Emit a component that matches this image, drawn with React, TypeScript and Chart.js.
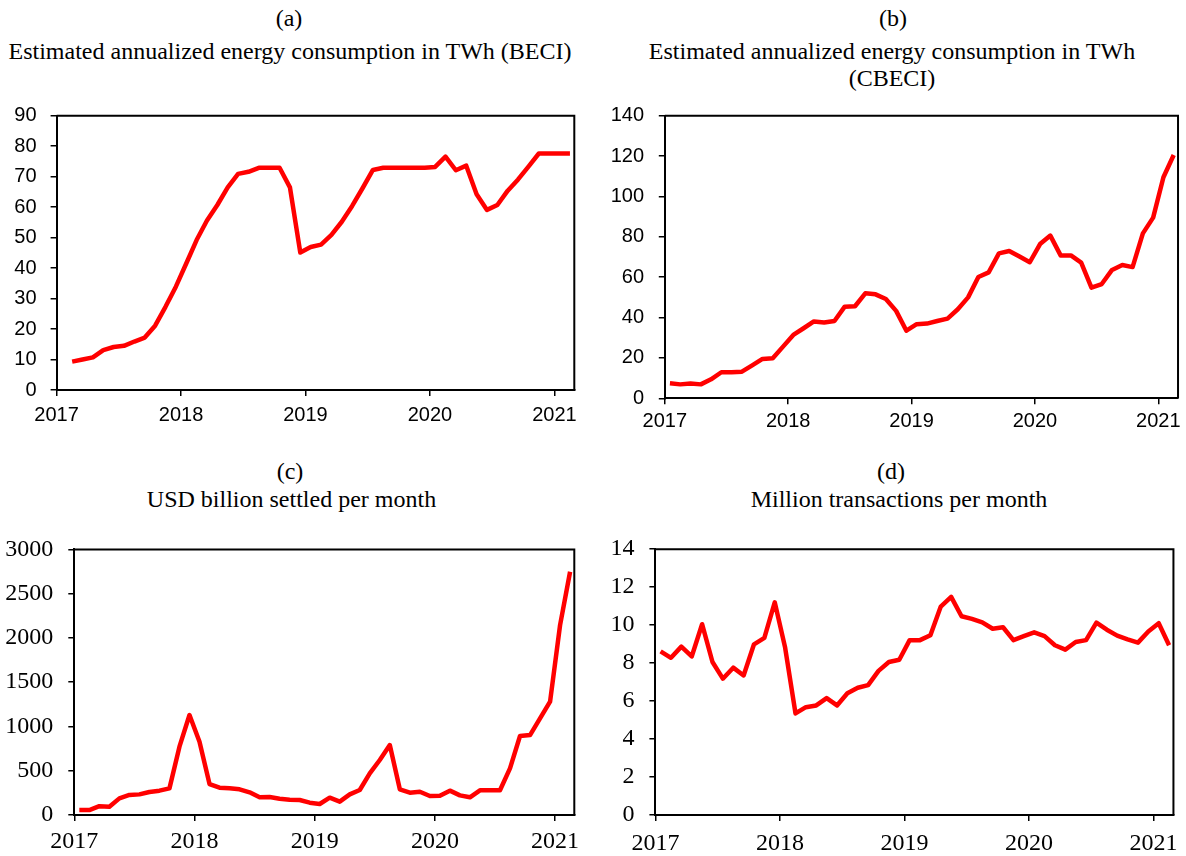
import React, { useEffect, useRef } from 'react';
import { Chart, registerables } from 'chart.js';
Chart.register(...registerables);

// ---------- data ----------
const yearTicks = [2017, 2018, 2019, 2020, 2021];

// (a) BECI, monthly from Feb 2017 to Feb 2021 (TWh)
const beciStartMonth = 2;
const energyBECI = [
  9.3, 10.0, 10.7, 13.1, 14.1, 14.5, 15.9, 17.2, 21.1, 27.3, 33.9,
  41.5, 49.2, 55.6, 60.7, 66.5, 70.9, 71.6, 72.9, 72.9, 72.9, 66.5, 45.1,
  46.9, 47.7, 50.9, 55.2, 60.4, 66.2, 72.2, 72.9, 72.9, 72.9, 72.9, 72.9,
  73.2, 76.6, 72.1, 73.6, 64.2, 59.1, 60.7, 65.4, 69.1, 73.3, 77.6, 77.6,
  77.6, 77.6,
];

// (b) CBECI, monthly from Jan 2017 to Feb 2021 (TWh)
const cbeciStartMonth = 1;
const energyCBECI = [
  7.4, 6.9, 7.3, 6.9, 9.4, 12.9, 12.9, 13.2, 16.3, 19.5, 19.8, 25.6,
  31.4, 34.7, 38.1, 37.6, 38.3, 45.4, 45.6, 52.0, 51.5, 49.2, 43.3, 33.5,
  36.7, 37.0, 38.3, 39.5, 44.1, 50.0, 60.1, 62.4, 71.8, 73.0, 70.2, 67.4,
  76.4, 80.6, 70.8, 70.8, 67.2, 54.8, 56.6, 63.6, 66.0, 65.0, 81.7, 89.5,
  109.5, 120.5,
];

// (c) USD billion settled per month, from Jan 2017
const usdStartMonth = 1;
const usdSettled = [
  56, 56, 100, 94, 188, 226, 233, 260, 275, 301, 772, 1129,
  828, 350, 309, 301, 290, 256, 200, 203, 184, 173, 169, 139,
  124, 196, 151, 233, 282, 470, 621, 790, 290, 252, 263, 215,
  218, 275, 222, 200, 279, 279, 279, 527, 892, 903, 1092, 1280,
  2145, 2748,
];

// (d) Million transactions per month, from Jan 2017
const txStartMonth = 1;
const transactions = [
  8.62, 8.28, 8.87, 8.35, 10.05, 8.06, 7.18, 7.76, 7.35, 8.99, 9.33, 11.2,
  8.82, 5.35, 5.68, 5.77, 6.16, 5.77, 6.41, 6.70, 6.84, 7.59, 8.06, 8.18,
  9.21, 9.21, 9.47, 10.98, 11.49, 10.47, 10.33, 10.15, 9.81, 9.89, 9.21, 9.42,
  9.62, 9.42, 8.94, 8.71, 9.11, 9.21, 10.13, 9.76, 9.45, 9.25, 9.08, 9.67,
  10.10, 8.94,
];

// ---------- helpers ----------
const SANS = "'Liberation Sans', Arial, sans-serif";
const SERIF = "'Liberation Serif', 'Times New Roman', serif";

function toPoints(startMonth: number, values: number[]) {
  return values.map((v, i) => ({ x: 2017 + (startMonth - 1 + i + 0.5) / 12, y: v }));
}

const framePlugin = {
  id: 'frameBox',
  beforeDatasetsDraw(chart: any) {
    const { ctx, chartArea } = chart;
    ctx.save();
    ctx.strokeStyle = '#000';
    ctx.lineWidth = 2;
    ctx.beginPath();
    ctx.moveTo(chartArea.left, chartArea.top);
    ctx.lineTo(chartArea.right, chartArea.top);
    ctx.lineTo(chartArea.right, chartArea.bottom);
    ctx.stroke();
    ctx.restore();
  },
};

type PanelSpec = {
  canvas: { left: number; top: number; width: number; height: number };
  plot: { left: number; top: number; right: number; bottom: number };
  points: { x: number; y: number }[];
  yMax: number;
  yStep: number;
  family: string;
  size: number;
  xPad: number;
  yPad: number;
};

function Panel({ spec }: { spec: PanelSpec }) {
  const ref = useRef<HTMLCanvasElement | null>(null);
  useEffect(() => {
    if (!ref.current) return;
    const { canvas, plot } = spec;
    const yWidth = plot.left - canvas.left;
    const xHeight = canvas.top + canvas.height - plot.bottom;
    const font = { family: spec.family, size: spec.size };
    const chart = new Chart(ref.current, {
      type: 'line',
      data: {
        datasets: [
          {
            data: spec.points,
            borderColor: '#ff0000',
            backgroundColor: '#ff0000',
            borderWidth: 4.5,
            pointRadius: 0,
            tension: 0,
            borderJoinStyle: 'round',
            fill: false,
          },
        ],
      },
      options: {
        animation: false,
        responsive: false,
        maintainAspectRatio: false,
        layout: {
          padding: {
            left: 0,
            top: plot.top - canvas.top,
            right: canvas.left + canvas.width - plot.right,
            bottom: 0,
          },
        },
        plugins: { legend: { display: false }, tooltip: { enabled: false }, title: { display: false } },
        scales: {
          x: {
            type: 'linear',
            min: 2017,
            max: 2021.16,
            afterBuildTicks: (s: any) => {
              s.ticks = yearTicks.map((v) => ({ value: v }));
            },
            afterFit: (s: any) => {
              s.height = xHeight;
            },
            ticks: {
              autoSkip: false,
              maxRotation: 0,
              minRotation: 0,
              padding: spec.xPad,
              color: '#000',
              font,
              callback: (v: any) => String(v),
            },
            grid: { drawOnChartArea: false, drawTicks: true, tickLength: 6, color: '#000', lineWidth: 1.5 },
            border: { display: true, color: '#000', width: 2 },
          },
          y: {
            type: 'linear',
            min: 0,
            max: spec.yMax,
            afterFit: (s: any) => {
              s.width = yWidth;
            },
            ticks: {
              stepSize: spec.yStep,
              padding: spec.yPad,
              color: '#000',
              font,
              callback: (v: any) => String(v),
            },
            grid: { drawOnChartArea: false, drawTicks: true, tickLength: 6, color: '#000', lineWidth: 1.5 },
            border: { display: true, color: '#000', width: 2 },
          },
        },
      },
      plugins: [framePlugin],
    } as any);
    return () => chart.destroy();
  }, [spec]);
  const { canvas } = spec;
  return (
    <canvas
      ref={ref}
      width={canvas.width}
      height={canvas.height}
      style={{ position: 'absolute', left: canvas.left, top: canvas.top, width: canvas.width, height: canvas.height }}
    />
  );
}

function Label({ cx, baseline, children }: { cx: number; baseline: number; children: React.ReactNode }) {
  return (
    <div
      style={{
        position: 'absolute',
        left: cx,
        top: baseline - 21.6,
        transform: 'translateX(-50%)',
        fontFamily: SERIF,
        fontSize: 24,
        lineHeight: '27px',
        textAlign: 'center',
        whiteSpace: 'nowrap',
        color: '#000',
      }}
    >
      {children}
    </div>
  );
}

const panelA: PanelSpec = {
  canvas: { left: 0, top: 80, width: 590, height: 360 },
  plot: { left: 56.6, top: 115.7, right: 574.3, bottom: 390 },
  points: toPoints(beciStartMonth, energyBECI),
  yMax: 90,
  yStep: 10,
  family: SANS,
  size: 20,
  xPad: 7.5,
  yPad: 14,
};
const panelB: PanelSpec = {
  canvas: { left: 595, top: 80, width: 591, height: 360 },
  plot: { left: 664.8, top: 115.7, right: 1179, bottom: 398.3 },
  points: toPoints(cbeciStartMonth, energyCBECI),
  yMax: 140,
  yStep: 20,
  family: SANS,
  size: 20,
  xPad: 5.2,
  yPad: 14.8,
};
const panelC: PanelSpec = {
  canvas: { left: 0, top: 520, width: 590, height: 336 },
  plot: { left: 74.3, top: 549.3, right: 574.3, bottom: 815 },
  points: toPoints(usdStartMonth, usdSettled),
  yMax: 3000,
  yStep: 500,
  family: SERIF,
  size: 24,
  xPad: 6.1,
  yPad: 15,
};
const panelD: PanelSpec = {
  canvas: { left: 595, top: 520, width: 591, height: 336 },
  plot: { left: 655.4, top: 540, right: 1176, bottom: 815 },
  points: toPoints(txStartMonth, transactions),
  yMax: 14,
  yStep: 2,
  family: SERIF,
  size: 24,
  xPad: 8.1,
  yPad: 14.8,
};

export default function App() {
  return (
    <div style={{ position: 'absolute', left: 0, top: 0, width: 1186, height: 856, background: '#fff', overflow: 'hidden' }}>
      <Label cx={289} baseline={27}>(a)</Label>
      <Label cx={290} baseline={59.5}>Estimated annualized energy consumption in TWh (BECI)</Label>
      <Label cx={893} baseline={27}>(b)</Label>
      <Label cx={892} baseline={60}>
        Estimated annualized energy consumption in TWh
        <br />
        (CBECI)
      </Label>
      <Label cx={290} baseline={480}>(c)</Label>
      <Label cx={291.5} baseline={508}>USD billion settled per month</Label>
      <Label cx={891} baseline={480}>(d)</Label>
      <Label cx={899} baseline={508}>Million transactions per month</Label>
      <Panel spec={panelA} />
      <Panel spec={panelB} />
      <Panel spec={panelC} />
      <Panel spec={panelD} />
    </div>
  );
}
